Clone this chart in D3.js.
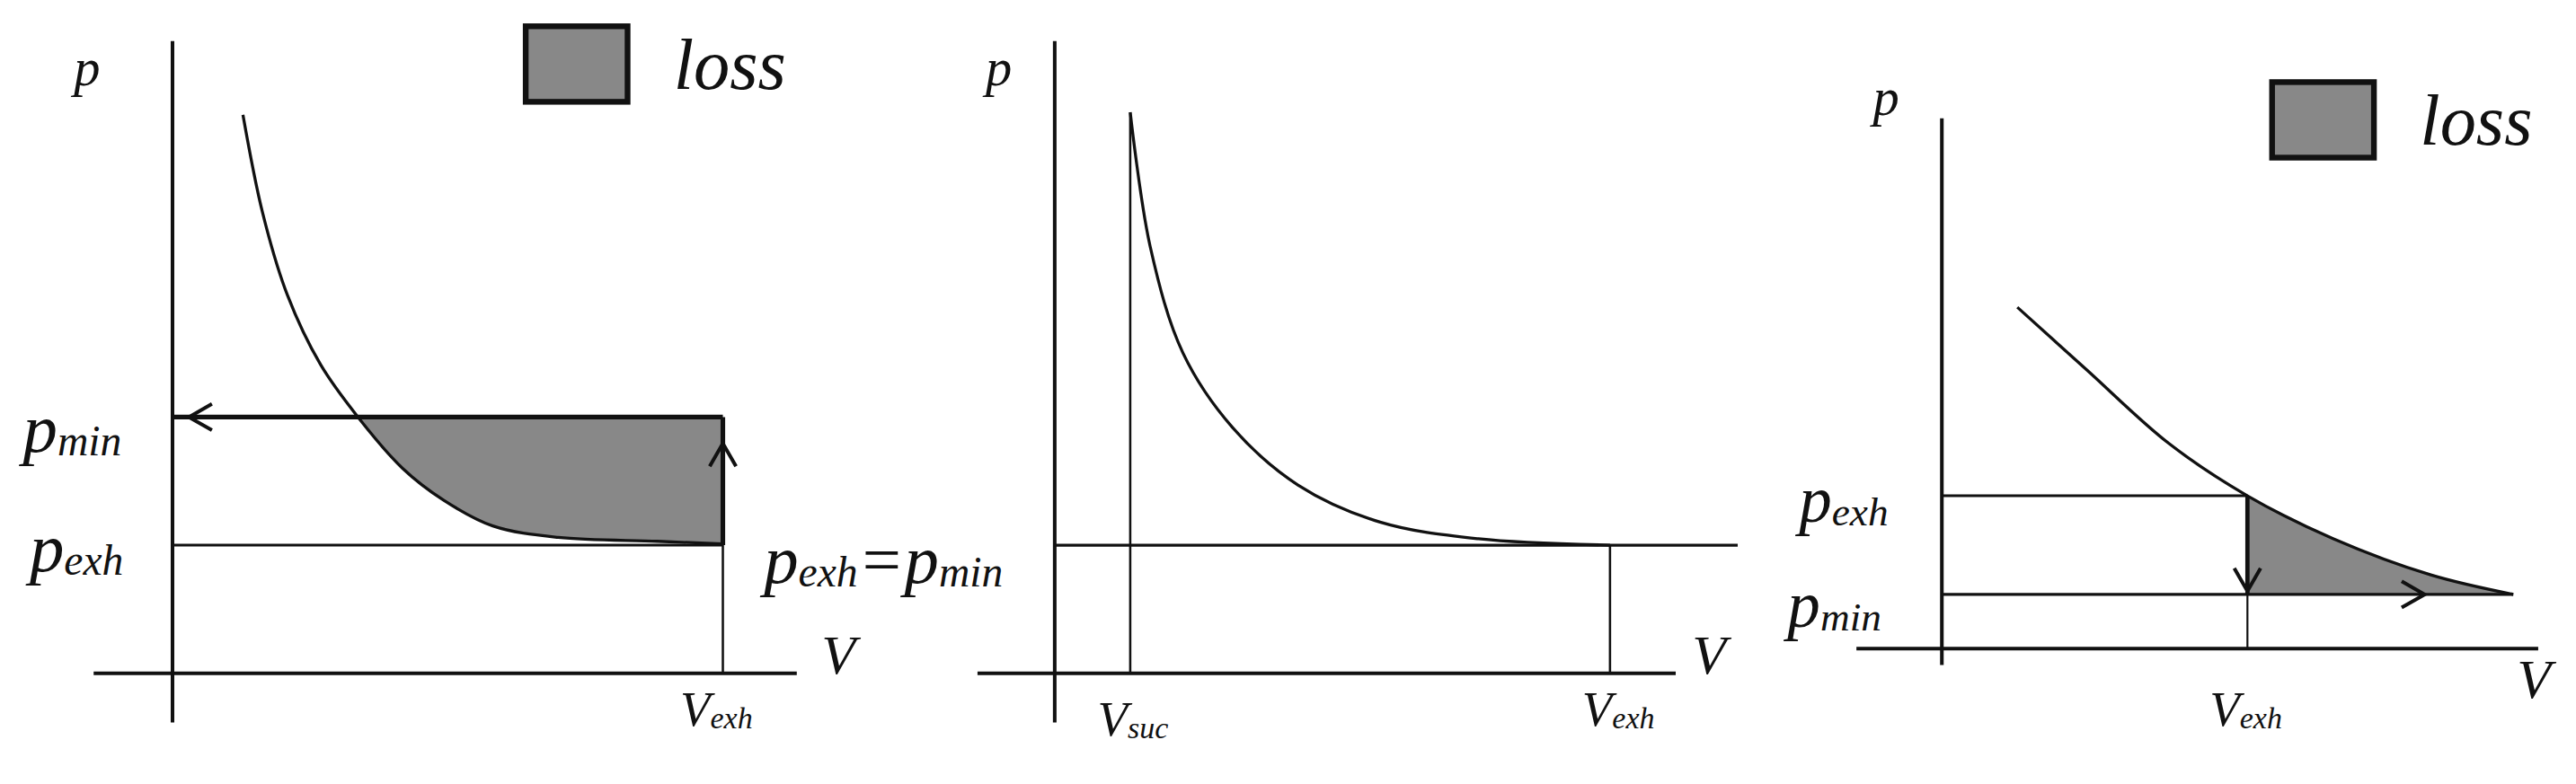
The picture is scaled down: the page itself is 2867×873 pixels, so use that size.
<!DOCTYPE html>
<html>
<head>
<meta charset="utf-8">
<script src="https://cdn.jsdelivr.net/npm/d3@7"></script>
<style>
  body { margin: 0; background: #fff; }
  text { font-family: "Liberation Serif", "DejaVu Serif", serif; font-style: italic; fill: #111; }
</style>
</head>
<body>
<div id="chart"></div>
<script>
// data (V in % of V_exh, p in relative units)
var curve1V = [12.8, 16.4, 20.9, 26.9, 33.7, 41.8, 49.3, 58.2, 70.1, 88.1, 100];
var curve1P = [4.36, 3.59, 2.95, 2.41, 2.0, 1.60, 1.35, 1.15, 1.06, 1.03, 1.01];
var curve2V = [13.6, 17.2, 23.1, 32.0, 43.8, 58.6, 76.3, 100];
var curve2P = [4.38, 3.33, 2.5, 1.92, 1.47, 1.18, 1.05, 1.0];
var curve3V = [24.7, 47.3, 74.2, 100, 128, 160, 187];
var curve3P = [6.30, 5.15, 3.79, 2.82, 2.03, 1.36, 1.0];
var p1 = { exh: 1, min: 2 };
var p3 = { exh: 2.82, min: 1 };
var vsuc2 = 13.6;

var svgWidth = 2867, svgHeight = 873, k = svgWidth / 1568;

var svg = d3.select("#chart").append("svg")
    .attr("width", svgWidth).attr("height", svgHeight);
var g = svg.append("g").attr("transform", `scale(${k})`);

function zip(a, b) { return a.map((v, i) => [v, b[i]]); }

function line(x1, y1, x2, y2, w) {
    g.append("line").attr("x1", x1).attr("y1", y1).attr("x2", x2).attr("y2", y2)
        .attr("stroke", "#111").attr("stroke-width", w);
}

function arrowHead(x, y, dir) {
    // open V arrow head, tip at (x,y)
    var s = 14, h = 8, d;
    if (dir === "left") d = `M${x + s},${y - h}L${x},${y}L${x + s},${y + h}`;
    if (dir === "right") d = `M${x - s},${y - h}L${x},${y}L${x - s},${y + h}`;
    if (dir === "up") d = `M${x - h},${y + s}L${x},${y}L${x + h},${y + s}`;
    if (dir === "down") d = `M${x - h},${y - s}L${x},${y}L${x + h},${y - s}`;
    g.append("path").attr("d", d).attr("fill", "none").attr("stroke", "#111").attr("stroke-width", 2.2);
}

function label(x, y, main, sub, size) {
    var t = g.append("text").attr("x", x).attr("y", y).attr("font-size", size);
    t.append("tspan").text(main);
    if (sub) t.append("tspan").attr("font-size", size * 0.62).attr("dy", size * 0.05).text(sub);
    return t;
}

function legend(x, y) {
    g.append("rect").attr("x", x).attr("y", y).attr("width", 62).attr("height", 46)
        .attr("fill", "#888").attr("stroke", "#111").attr("stroke-width", 3.5);
    g.append("text").attr("x", x + 90).attr("y", y + 38).attr("font-size", 44).text("loss");
}

function axes(ax, ay, top, left, right, bottom) {
    line(ax, top, ax, bottom, 2.2);
    line(left, ay, right, ay, 2.2);
}

// ---------- panel 1 ----------
var x1 = d3.scaleLinear().domain([0, 100]).range([105, 440]);
var y1 = d3.scaleLinear().domain([0, 1]).range([410, 332]);
var c1 = zip(curve1V, curve1P);
var loss1 = c1.filter(d => d[1] <= p1.min);
g.append("path").datum(loss1)
    .attr("d", d3.area().x(d => x1(d[0])).y0(d => y1(d[1])).y1(y1(p1.min)).curve(d3.curveMonotoneX))
    .attr("fill", "#888");
axes(x1(0), y1(0), 25, 57, 485, 440);
g.append("path").datum(c1)
    .attr("d", d3.line().x(d => x1(d[0])).y(d => y1(d[1])).curve(d3.curveCatmullRom))
    .attr("fill", "none").attr("stroke", "#111").attr("stroke-width", 1.8);
line(x1(0), y1(p1.min), x1(100), y1(p1.min), 2.8);
arrowHead(x1(0) + 10, y1(p1.min), "left");
line(x1(0), y1(p1.exh), x1(100), y1(p1.exh), 1.6);
line(x1(100), y1(p1.exh), x1(100), y1(p1.min), 2.8);
arrowHead(x1(100), y1(p1.min) + 16, "up");
line(x1(100), y1(p1.exh), x1(100), y1(0), 1.4);
label(45, 52, "p", null, 32);
label(500, 410, "V", null, 34);
label(14, 275, "p", "min", 42);
label(18, 348, "p", "exh", 42);
label(414, 442, "V", "exh", 30);
legend(320, 16);

// ---------- panel 2 ----------
var x2 = d3.scaleLinear().domain([0, 100]).range([642, 980]);
var y2 = d3.scaleLinear().domain([0, 1]).range([410, 332]);
axes(x2(0), y2(0), 25, 595, 1020, 440);
line(x2(0), y2(1), x2(123), y2(1), 1.8);
line(x2(vsuc2), y2(curve2P[0]), x2(vsuc2), y2(0), 1.4);
line(x2(100), y2(1), x2(100), y2(0), 1.4);
g.append("path").datum(zip(curve2V, curve2P))
    .attr("d", d3.line().x(d => x2(d[0])).y(d => y2(d[1])).curve(d3.curveCatmullRom))
    .attr("fill", "none").attr("stroke", "#111").attr("stroke-width", 1.8);
label(600, 52, "p", null, 32);
label(1030, 410, "V", null, 34);
var t2 = label(465, 355, "p", "exh", 42);
t2.append("tspan").attr("dy", -2).text("=");
t2.append("tspan").text("p");
t2.append("tspan").attr("font-size", 26).attr("dy", 2).text("min");
label(668, 448, "V", "suc", 30);
label(963, 442, "V", "exh", 30);

// ---------- panel 3 ----------
var x3 = d3.scaleLinear().domain([0, 100]).range([1182, 1368]);
var y3 = d3.scaleLinear().domain([0, 1]).range([395, 362]);
var c3 = zip(curve3V, curve3P);
var loss3 = c3.filter(d => d[0] >= 100);
g.append("path").datum(loss3)
    .attr("d", d3.area().x(d => x3(d[0])).y0(d => y3(d[1])).y1(y3(p3.min)).curve(d3.curveMonotoneX))
    .attr("fill", "#888");
axes(x3(0), y3(0), 72, 1130, 1545, 405);
g.append("path").datum(c3)
    .attr("d", d3.line().x(d => x3(d[0])).y(d => y3(d[1])).curve(d3.curveCatmullRom))
    .attr("fill", "none").attr("stroke", "#111").attr("stroke-width", 1.8);
line(x3(0), y3(p3.exh), x3(100), y3(p3.exh), 1.6);
line(x3(0), y3(p3.min), x3(187), y3(p3.min), 1.8);
line(x3(100), y3(p3.exh), x3(100), y3(p3.min), 2.6);
arrowHead(x3(100), y3(p3.min) - 2, "down");
arrowHead(x3(158), y3(p3.min), "right");
line(x3(100), y3(p3.min), x3(100), y3(0), 1.2);
label(1140, 70, "p", null, 32);
label(1532, 425, "V", null, 34);
label(1095, 318, "p", "exh", 40);
label(1088, 382, "p", "min", 40);
label(1345, 442, "V", "exh", 30);
legend(1383, 50);
</script>
</body>
</html>
